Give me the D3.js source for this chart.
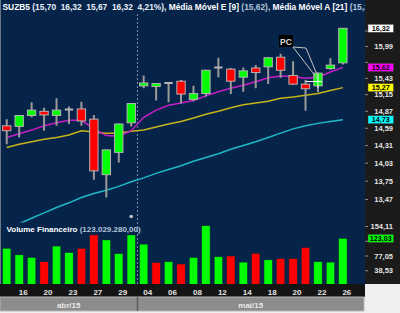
<!DOCTYPE html>
<html><head><meta charset="utf-8">
<script src="https://cdn.jsdelivr.net/npm/d3@7"></script>
<style>
html,body{margin:0;padding:0;background:#efefef;}
svg{display:block;}
text{font-family:"Liberation Sans",Arial,sans-serif;font-weight:bold;white-space:pre;}
</style></head><body><svg id="c" width="400" height="313"></svg>
<script>
// ---------- DATA ----------
const dates = ["2015-04-15","2015-04-16","2015-04-17","2015-04-20","2015-04-22","2015-04-23","2015-04-24",
  "2015-04-27","2015-04-28","2015-04-29","2015-04-30","2015-05-04","2015-05-05","2015-05-06","2015-05-07",
  "2015-05-08","2015-05-11","2015-05-12","2015-05-13","2015-05-14","2015-05-15","2015-05-18","2015-05-19",
  "2015-05-20","2015-05-21","2015-05-22","2015-05-25","2015-05-26"];
const open  = [14.63,14.62,14.80,14.87,14.80,14.90,14.91,14.74,13.85,14.20,14.68,15.30,15.29,15.35,15.38,15.07,15.17,15.62,15.59,15.45,15.61,15.63,15.80,15.48,15.33,15.30,15.60,15.70];
const high  = [14.74,14.81,15.02,14.93,15.09,14.95,15.03,14.81,14.25,14.67,15.01,15.48,15.35,15.35,15.40,15.30,15.58,15.79,15.61,15.62,15.66,15.80,15.86,15.73,15.40,15.53,15.78,16.32];
const low   = [14.33,14.44,14.77,14.55,14.63,14.66,14.63,13.77,13.50,14.04,14.62,15.26,15.05,15.02,15.00,15.04,15.12,15.45,15.16,15.20,15.26,15.33,15.44,15.32,14.88,15.19,15.58,15.67];
const close = [14.55,14.80,14.89,14.81,14.89,14.90,14.71,13.91,14.24,14.66,15.00,15.35,15.34,15.35,15.16,15.17,15.57,15.62,15.38,15.56,15.53,15.79,15.57,15.33,15.25,15.52,15.66,16.32];
const ema9   = [14.44,14.50,14.56,14.63,14.68,14.72,14.72,14.58,14.47,14.46,14.55,14.77,14.89,14.97,15.01,15.05,15.13,15.20,15.26,15.31,15.37,15.44,15.47,15.46,15.43,15.45,15.54,15.62];
const sma21  = [14.28,14.33,14.37,14.41,14.44,14.48,14.55,14.53,14.51,14.51,14.54,14.56,14.61,14.66,14.70,14.76,14.82,14.87,14.93,14.98,15.01,15.04,15.09,15.11,15.14,15.17,15.22,15.27];
const maLong = [13.05,13.11,13.19,13.27,13.35,13.42,13.50,13.56,13.61,13.67,13.74,13.80,13.87,13.93,13.99,14.06,14.12,14.18,14.25,14.31,14.37,14.44,14.51,14.58,14.63,14.67,14.70,14.73];
const volume = [97,80,73,62,103,86,97,132,119,83,132,108,60,62,56,73,156,75,77,61,84,67,70,70,99,62,61,123.03];
const volUp  = [1,1,1,0,1,1,0,0,1,1,1,1,0,1,0,1,1,1,0,1,0,1,0,0,0,1,1,1];
const priceTicks = [13.47,13.75,14.03,14.31,14.59,14.87,15.15,15.43,15.71,15.99,16.27];
const volTicks = [38.53,77.05,115.58,154.11];
const months = [{key:"2015-04",label:"abr/15"},{key:"2015-05",label:"mai/15"}];
const ticker = "SUZB5";
const volTotal = "123.029.280,00";

// ---------- LAYOUT ----------
const svg = d3.select("#c");
const plotR = 365, priceClipBottom = 222.5, volBottom = 284;
const fmt = v => v.toFixed(2).replace(".", ",");
const N = dates.length;
const x = d3.scaleBand().domain(dates).range([0.5, 0.5 + N * 12.45]).padding(0);
const cx = d => x(d) + x.bandwidth() / 2;
const y = d3.scaleLog().domain([13.47, 16.32]).range([199.5, 28.3]);
const yv = d3.scaleLinear().domain([0, 154.11]).range([285.5, 226.5]);
const bodyW = x.bandwidth() * 0.67;

// backgrounds
svg.append("rect").attr("width", 400).attr("height", 313).attr("fill", "#efefef");
svg.append("rect").attr("x", 0).attr("y", 0).attr("width", plotR).attr("height", volBottom).attr("fill", "#062449");
svg.append("line").attr("x1", 0.5).attr("x2", 0.5).attr("y1", 0).attr("y2", volBottom).attr("stroke", "#6a7888");

const defs = svg.append("defs");
defs.append("clipPath").attr("id", "pclip").append("rect").attr("x", 1).attr("y", 14).attr("width", plotR - 1).attr("height", priceClipBottom - 14);
defs.append("clipPath").attr("id", "vclip").append("rect").attr("x", 1).attr("y", 222).attr("width", plotR - 1).attr("height", volBottom - 222);

// month separator (dotted)
const sepX = (cx(dates[10]) + cx(dates[11])) / 2;
svg.append("line").attr("x1", sepX).attr("x2", sepX).attr("y1", 14).attr("y2", volBottom)
  .attr("stroke", "#7f8ea4").attr("stroke-width", 1).attr("stroke-dasharray", "2,2");

// volume bars
const vg = svg.append("g").attr("clip-path", "url(#vclip)");
vg.selectAll("rect").data(dates).join("rect")
  .attr("x", d => cx(d) - bodyW / 2).attr("width", bodyW)
  .attr("y", (d, i) => yv(volume[i])).attr("height", (d, i) => yv(0) - yv(volume[i]))
  .attr("fill", (d, i) => volUp[i] ? "#00ff00" : "#ff0000")
  .attr("stroke", "#0a2a3a").attr("stroke-width", 0.5);

// price pane
const pg = svg.append("g").attr("clip-path", "url(#pclip)");
const line = arr => d3.line().x((d, i) => cx(dates[i])).y(d => y(d))(arr);
pg.append("path").attr("d", line(maLong)).attr("fill", "none").attr("stroke", "#1fb8c8").attr("stroke-width", 1.5);
pg.append("path").attr("d", line(sma21)).attr("fill", "none").attr("stroke", "#c8b418").attr("stroke-width", 1.5);
pg.append("path").attr("d", line(ema9)).attr("fill", "none").attr("stroke", "#c81ec8").attr("stroke-width", 1.5);

const cg = pg.append("g");
dates.forEach((d, i) => {
  const c = cx(d);
  cg.append("line").attr("x1", c).attr("x2", c).attr("y1", y(high[i])).attr("y2", y(low[i]))
    .attr("stroke", "#9a9a9a").attr("stroke-width", 2);
  if (open[i] === close[i]) {
    cg.append("line").attr("x1", c - bodyW / 2).attr("x2", c + bodyW / 2)
      .attr("y1", y(open[i])).attr("y2", y(open[i])).attr("stroke", "#b4b4b4").attr("stroke-width", 2);
  } else {
    const top = y(Math.max(open[i], close[i])), bot = y(Math.min(open[i], close[i]));
    cg.append("rect").attr("x", c - bodyW / 2).attr("width", bodyW)
      .attr("y", top).attr("height", Math.max(2, bot - top))
      .attr("fill", close[i] > open[i] ? "#00ff00" : "#ff0000")
      .attr("stroke", "#b4b4b4").attr("stroke-width", 1);
  }
});

// crosshair on selected candle
const sel = 25, sc = cx(dates[sel]);
const ch = (y(open[sel]) + y(close[sel])) / 2 + 2;
svg.append("line").attr("x1", sc - 12).attr("x2", sc + 4).attr("y1", ch).attr("y2", ch).attr("stroke", "#ffffff").attr("stroke-width", 1);
svg.append("line").attr("x1", sc).attr("x2", sc).attr("y1", y(close[sel]) + 1).attr("y2", y(open[sel]) + 2).attr("stroke", "#ffffff").attr("stroke-width", 1);

// PC annotation
const tipY = y(close[sel]) + 5;
const bx = sc - 39, by = 35;
svg.append("path").attr("d", `M${bx + 14},${by + 12} L${sc - 12},${by + 13} L${sc + 0.5},${tipY} M${bx + 14},${by + 12} L${sc - 1},${tipY}`)
  .attr("fill", "none").attr("stroke", "#c4c4c4").attr("stroke-width", 1);
svg.append("rect").attr("x", bx).attr("y", by).attr("width", 14).attr("height", 12).attr("fill", "#000");
svg.append("text").attr("x", bx + 7).attr("y", by + 9.5).attr("text-anchor", "middle")
  .attr("font-size", 8.5).attr("fill", "#d8d8d8").text("PC");

// event marker
svg.append("circle").attr("cx", cx(dates[10])).attr("cy", 216.5).attr("r", 1.8).attr("fill", "#c8c8c8");

// title
const L = N - 1;
const pct = (close[L] / close[L - 1] - 1) * 100;
const title = svg.append("text").attr("x", 2.5).attr("y", 10).attr("font-size", 8.4);
[[ticker + " ", "#ffffff"],
 [`(${fmt(open[L])}  ${fmt(high[L])}  ${fmt(low[L])}  ${fmt(close[L])}  ${fmt(pct)}%), `, "#e8eef8"],
 ["Média Móvel E [9] ", "#ffffff"], [`(${fmt(ema9[L])}), `, "#b4c4dc"],
 ["Média Móvel A [21] ", "#ffffff"], [`(${fmt(sma21[L])})`, "#b4c4dc"]]
 .forEach(([t, c]) => title.append("tspan").attr("fill", c).text(t));

// volume label
const vt = svg.append("text").attr("x", 6.5).attr("y", 231.5).attr("font-size", 8);
vt.append("tspan").attr("fill", "#ffffff").text("Volume Financeiro ");
vt.append("tspan").attr("fill", "#b4c4dc").text(`(${volTotal})`);

// right axis panel
svg.append("rect").attr("x", plotR).attr("y", 0).attr("width", 400 - plotR).attr("height", volBottom).attr("fill", "#1b1b1b");
const ax = svg.append("g").attr("font-size", 7.5);
const boxes = [
  {v: maLong[L], yy: y(maLong[L]), col: "#00ffff"},
  {v: sma21[L], yy: y(sma21[L]), col: "#ffff00"},
  {v: ema9[L], yy: y(ema9[L]), col: "#ff00ff"},
  {v: close[L], yy: y(close[L]), col: "#ffffff"},
  {v: volume[L], yy: yv(volume[L]), col: "#00ff00"}];
const hidden = yy => boxes.some(b => Math.abs(b.yy - yy) < 6);
priceTicks.forEach(t => {
  ax.append("line").attr("x1", plotR).attr("x2", plotR + 3).attr("y1", y(t)).attr("y2", y(t)).attr("stroke", "#8a8a8a");
  if (!hidden(y(t))) ax.append("text").attr("x", 393).attr("y", y(t)).attr("dy", "0.35em").attr("text-anchor", "end").attr("fill", "#e4e4e4").text(fmt(t));
});
volTicks.forEach(t => {
  ax.append("line").attr("x1", plotR).attr("x2", plotR + 3).attr("y1", yv(t)).attr("y2", yv(t)).attr("stroke", "#8a8a8a");
  if (!hidden(yv(t))) ax.append("text").attr("x", 393).attr("y", yv(t)).attr("dy", "0.35em").attr("text-anchor", "end").attr("fill", "#e4e4e4").text(fmt(t));
});
boxes.forEach(b => {
  ax.append("rect").attr("x", 368).attr("y", b.yy - 4).attr("width", 25.5).attr("height", 8).attr("fill", b.col).attr("stroke", "#444").attr("stroke-width", 0.5);
  ax.append("text").attr("x", 380.75).attr("y", b.yy).attr("dy", "0.35em").attr("text-anchor", "middle").attr("font-size", 7.2).attr("fill", "#000").text(fmt(b.v));
});

// x axis strip
svg.append("rect").attr("x", 0).attr("y", volBottom).attr("width", plotR).attr("height", 13).attr("fill", "#141414");
svg.append("g").attr("font-size", 8).selectAll("text").data(dates.filter((d, i) => i % 2 === 1)).join("text")
  .attr("x", d => cx(d) + 4).attr("y", 294.5).attr("text-anchor", "middle").attr("fill", "#e4e4e4")
  .text(d => d.slice(8));

// month bar
const mStart = m => { const i = dates.findIndex(d => d.startsWith(m.key)); return i === 0 ? 0 : (cx(dates[i - 1]) + cx(dates[i])) / 2; };
const mEnd = (m, k) => k === months.length - 1 ? plotR - 1 : mStart(months[k + 1]);
svg.append("rect").attr("x", 0).attr("y", 297).attr("width", plotR - 1).attr("height", 14).attr("fill", "#8c8c8c").attr("stroke", "#b8b8b8").attr("stroke-width", 1);
months.forEach((m, k) => {
  const a = mStart(m), b = mEnd(m, k);
  if (k > 0) svg.append("line").attr("x1", a).attr("x2", a).attr("y1", 297).attr("y2", 311).attr("stroke", "#5c5c5c").attr("stroke-width", 1.5);
  svg.append("text").attr("x", (a + b) / 2).attr("y", 307.5).attr("text-anchor", "middle").attr("font-size", 8)
    .attr("fill", "#e8e8e8").text(m.label);
});
</script></body></html>
